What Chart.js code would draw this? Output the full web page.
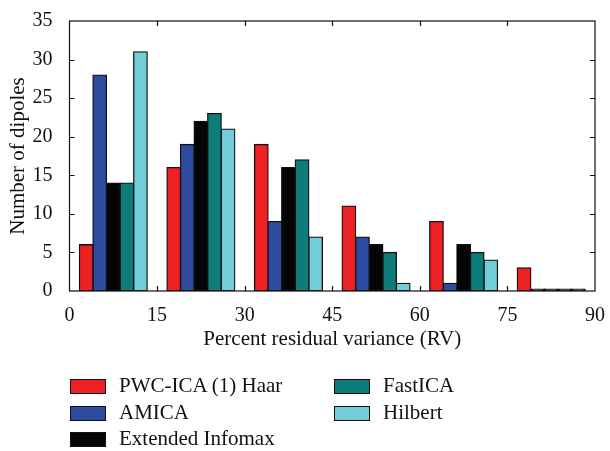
<!DOCTYPE html>
<html>
<head>
<meta charset="utf-8">
<script src="https://cdn.jsdelivr.net/npm/chart.js@4"></script>
<style>
  body { margin: 0; background: #fff; }
  #wrap { position: relative; width: 610px; height: 451px; }
  #legend { position: absolute; left: 0; top: 0; font-family: "Liberation Serif", serif; font-size: 21px; color: #111; }
  .item { position: absolute; white-space: nowrap; line-height: 15px; }
  .item span.box { position: absolute; left: 0; top: 0; width: 34px; height: 13px; border: 1px solid #111; }
  .item span.lbl { position: absolute; left: 49px; top: -1px; }
</style>
</head>
<body>
<div id="wrap">
  <canvas id="myChart" width="610" height="451"></canvas>
  <div id="legend"></div>
</div>
<script>
const binCenters = [7.5, 22.5, 37.5, 52.5, 67.5, 82.5];
const seriesNames = ['PWC-ICA (1) Haar', 'AMICA', 'Extended Infomax', 'FastICA', 'Hilbert'];
const pwcHaar = [6, 16, 19, 11, 9, 3];
const amica = [28, 19, 9, 7, 1, 0];
const extInfomax = [14, 22, 16, 6, 6, 0];
const fastIca = [14, 23, 17, 5, 5, 0];
const hilbert = [31, 21, 7, 1, 4, 0];
const xTicks = [0, 15, 30, 45, 60, 75, 90];
const yTicks = [0, 5, 10, 15, 20, 25, 30, 35];

const colors = ['#ed2024', '#2e4c9f', '#050505', '#0e7c7b', '#72cdd9'];
const allSeries = [pwcHaar, amica, extInfomax, fastIca, hilbert];

const ctx = document.getElementById('myChart').getContext('2d');
const serif = '"Liberation Serif", serif';

// box round the plot and inward ticks on all four sides
const frame = {
    id: 'frame',
    afterDraw(chart) {
        const a = chart.chartArea;
        const c = chart.ctx;
        const xs = chart.scales.x, ys = chart.scales.y;
        c.save();
        c.strokeStyle = '#111';
        c.lineWidth = 1.2;
        c.strokeRect(a.left, a.top, a.right - a.left, a.bottom - a.top);
        c.beginPath();
        xTicks.slice(1, -1).forEach(v => {
            const px = Math.round(xs.getPixelForValue(v)) + 0.5;
            c.moveTo(px, a.bottom); c.lineTo(px, a.bottom - 5);
            c.moveTo(px, a.top); c.lineTo(px, a.top + 5);
        });
        yTicks.slice(1, -1).forEach(v => {
            const py = Math.round(ys.getPixelForValue(v)) + 0.5;
            c.moveTo(a.left, py); c.lineTo(a.left + 5, py);
            c.moveTo(a.right, py); c.lineTo(a.right - 5, py);
        });
        c.stroke();
        c.restore();
    }
};

const chart = new Chart(ctx, {
    type: 'bar',
    data: {
        datasets: seriesNames.map((name, i) => ({
            label: name,
            data: binCenters.map((x, j) => ({ x: x, y: allSeries[i][j] })),
            // empty bins show as a flat black edge on the axis
            backgroundColor: c => (c.raw && c.raw.y === 0 ? '#111' : colors[i]),
            borderColor: '#111',
            borderWidth: 1.3,
            borderSkipped: false,
            inflateAmount: 0.6,
            minBarLength: 2,
            categoryPercentage: 0.775,
            barPercentage: 1,
        })),
    },
    options: {
        responsive: false,
        animation: false,
        layout: { padding: { left: 2, right: 11, top: 13, bottom: 95 } },
        plugins: { legend: { display: false }, tooltip: { enabled: false } },
        scales: {
            x: {
                type: 'linear',
                min: 0,
                max: 90,
                offset: false,
                afterFit: s => { s.height = 65; },
                afterBuildTicks: s => { s.ticks = xTicks.map(v => ({ value: v })); },
                grid: { display: false },
                border: { display: false },
                ticks: { color: '#111', padding: 5, maxRotation: 0, font: { family: serif, size: 20 } },
                title: {
                    display: true,
                    text: 'Percent residual variance (RV)',
                    color: '#111',
                    font: { family: serif, size: 21 },
                },
            },
            y: {
                min: 0,
                max: 35,
                afterFit: s => { s.width = 67.5; },
                afterBuildTicks: s => { s.ticks = yTicks.map(v => ({ value: v })); },
                grid: { display: false },
                border: { display: false },
                ticks: { color: '#111', padding: 9, font: { family: serif, size: 20 } },
                title: {
                    display: true,
                    text: 'Number of dipoles',
                    color: '#111',
                    font: { family: serif, size: 21 },
                },
            },
        },
    },
    plugins: [frame],
});

// legend in two columns, filled column by column
const legendPos = [[70, 379], [70, 406], [70, 432], [334, 379], [334, 406]];
const legend = document.getElementById('legend');
seriesNames.forEach((name, i) => {
    const d = document.createElement('div');
    d.className = 'item';
    d.style.left = legendPos[i][0] + 'px';
    d.style.top = legendPos[i][1] + 'px';
    d.innerHTML = '<span class="box" style="background:' + colors[i] + '"></span><span class="lbl">' + name + '</span>';
    legend.appendChild(d);
});
</script>
</body>
</html>
